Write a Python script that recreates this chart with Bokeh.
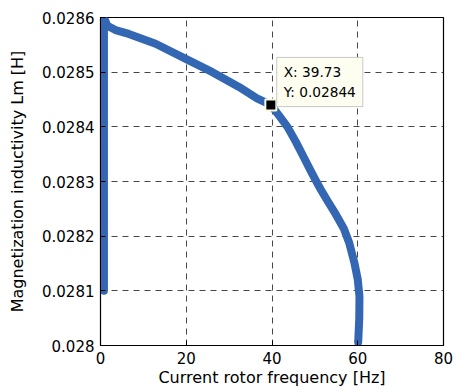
from bokeh.plotting import figure
from bokeh.models import Range1d, FixedTicker, CustomJSTickFormatter, Label
from bokeh.embed import file_html
from bokeh.resources import INLINE

# Data
freq = [0.8, 0.8, 1.6, 3.5, 6.6, 12.85, 20.0, 26.1, 32.3, 36.5, 39.73, 41.7, 43.6, 45.6,
        47.5, 49.0, 50.2, 51.4, 53.0, 54.5, 56.8, 58.0, 59.2, 60.0, 60.4, 60.35, 60.1]
lm = [0.02810, 0.02860, 0.028585, 0.028577, 0.02857, 0.028552, 0.028524, 0.02850, 0.028473,
      0.028452, 0.02844, 0.02842, 0.02840, 0.028372, 0.028343, 0.02832, 0.028302, 0.028285,
      0.028264, 0.028245, 0.028213, 0.028188, 0.028152, 0.028121, 0.02809, 0.028049, 0.028006]
tip_x = 39.73
tip_y = 0.02844
x_ticks = [0, 20, 40, 60, 80]
y_ticks = [0.0280, 0.0281, 0.0282, 0.0283, 0.0284, 0.0285, 0.0286]

FONT = "DejaVu Sans"

p = figure(width=453, height=390, output_backend="svg", toolbar_location=None,
           x_range=Range1d(0, 80), y_range=Range1d(0.0280, 0.0286),
           min_border_left=100, min_border_right=10, min_border_top=17, min_border_bottom=45)

p.background_fill_color = "white"
p.border_fill_color = "white"
p.outline_line_color = "black"
p.outline_line_width = 1.2

p.line(freq, lm, line_color="#3366b3", line_width=8, line_cap="round", line_join="round")

p.scatter([tip_x], [tip_y], marker="square", size=11, fill_color="black",
          line_color="#fbfbe0", line_width=2)

lbl = Label(x=41.1, y=0.028527, x_units="data", y_units="data",
            text="X: 39.73\nY: 0.02844", text_font=FONT, text_font_size="13.7px",
            text_color="black", text_line_height=1.2, anchor="top_left",
            background_fill_color="#fdfdf0", border_line_color="#c8c8c8",
            border_line_width=1, padding=7)
p.add_layout(lbl)

for ax in (p.xaxis[0], p.yaxis[0]):
    ax.major_tick_in = 5
    ax.major_tick_out = 0
    ax.minor_tick_in = 0
    ax.minor_tick_out = 0
    ax.axis_line_color = "black"
    ax.major_tick_line_color = "black"
    ax.major_label_text_font = FONT
    ax.major_label_text_font_size = "15px"
    ax.major_label_text_color = "black"
    ax.major_label_text_line_height = 1.0
    ax.axis_label_text_font = FONT
    ax.axis_label_text_font_size = "16px"
    ax.axis_label_text_font_style = "normal"
    ax.axis_label_text_color = "black"
    ax.axis_label_text_line_height = 1.0

p.xaxis.ticker = FixedTicker(ticks=x_ticks)
p.yaxis.ticker = FixedTicker(ticks=y_ticks)
p.yaxis.formatter = CustomJSTickFormatter(code="return String(Number(tick.toFixed(4)));")
p.xaxis.axis_label = "Current rotor frequency [Hz]"
p.yaxis.axis_label = "Magnetization inductivity Lm [H]"
p.xaxis.major_label_standoff = 6
p.xaxis.axis_label_standoff = 1
p.yaxis.major_label_standoff = 6
p.yaxis.axis_label_standoff = 12

p.grid.grid_line_color = "#333333"
p.grid.grid_line_dash = "6 5"
p.grid.grid_line_width = 1
p.grid.grid_line_alpha = 0.9

open("out.html", "w").write(file_html(p, INLINE))
